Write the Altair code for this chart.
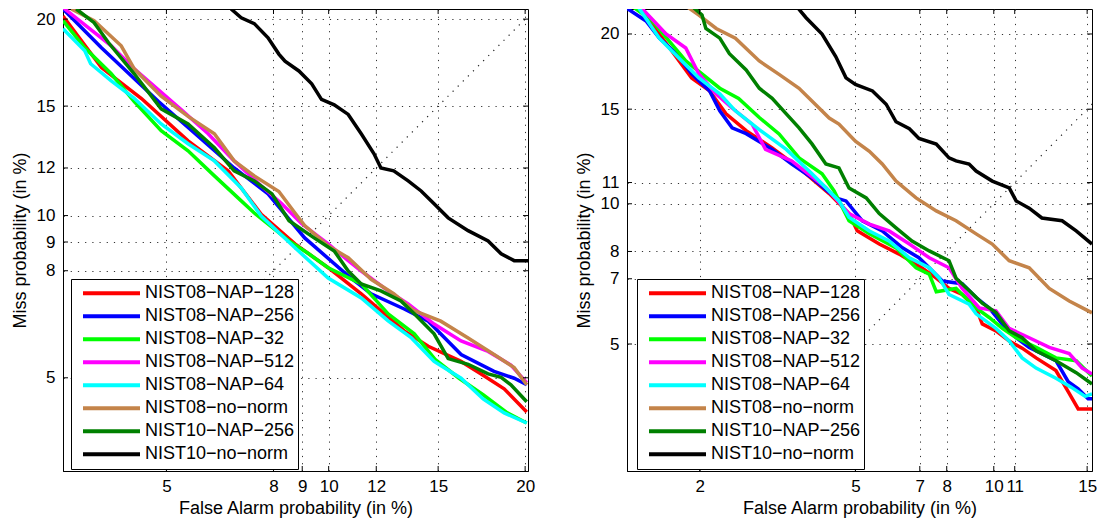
import altair as alt
import pandas as pd
from statistics import NormalDist

_nd = NormalDist()


def probit(p):
    return _nd.inv_cdf(p / 100.0)


SERIES = ["NIST08−NAP−128", "NIST08−NAP−256", "NIST08−NAP−32", "NIST08−NAP−512",
          "NIST08−NAP−64", "NIST08−no−norm", "NIST10−NAP−256", "NIST10−no−norm"]
COLORS = ["#ff0000", "#0000ff", "#00ff00", "#ff00ff", "#00ffff", "#c4844a", "#008000", "#000000"]

# ---------------- left panel (values in %) ----------------
L_128_FA = [3.03, 3.67, 4.45, 5.52, 6.6, 7.6, 8.74, 9.98, 11.34, 13.3, 14.49, 16.23, 17.47, 18.71, 20.1]
L_128_MS = [20.2, 17.1, 15.4, 13.26, 11.87, 10.05, 8.93, 8.1, 7.26, 6.18, 5.77, 5.39, 5.06, 4.75, 4.26]
L_256_FA = [3.03, 3.67, 4.82, 6.77, 7.82, 9.09, 10.79, 11.77, 13.3, 14.49, 16.23, 18.11, 19.32, 20.1]
L_256_MS = [20.64, 18.25, 15.24, 12.0, 10.88, 9.15, 7.83, 7.26, 6.8, 6.45, 5.56, 5.15, 4.99, 4.84]
L_32_FA = [3.03, 3.38, 3.85, 4.30, 4.88, 5.52, 6.21, 6.98, 7.38, 8.53, 9.24, 9.98, 11.34, 12.54, 13.79,
           14.84, 16.12, 17.47, 18.9, 20.1]
L_32_MS = [19.9, 18.25, 16.75, 15.24, 13.75, 12.79, 11.65, 10.59, 10.1, 9.04, 8.58, 8.1, 7.57, 6.66, 6.1,
           5.44, 4.99, 4.62, 4.24, 4.04]
L_512_FA = [3.04, 3.85, 4.30, 5.35, 6.04, 6.77, 7.6, 8.28, 8.98, 9.98, 10.79, 11.34, 12.54, 13.49, 14.79,
            16.23, 17.76, 19.12, 20.1]
L_512_MS = [20.7, 18.37, 17.03, 14.82, 13.6, 12.32, 11.22, 10.47, 9.68, 8.93, 8.34, 7.99, 7.35, 6.95, 6.37,
            5.91, 5.64, 5.3, 4.89]
L_64_FA = [3.03, 3.38, 3.48, 3.85, 4.30, 4.88, 5.52, 6.21, 6.98, 7.6, 8.74, 9.98, 11.34, 12.54, 13.65,
           14.79, 16.23, 17.47, 18.71, 20.1]
L_64_MS = [19.4, 18.07, 17.32, 16.36, 15.41, 14.09, 13.12, 12.32, 11.13, 9.98, 8.79, 7.76, 7.13, 6.46, 5.99,
           5.39, 4.99, 4.53, 4.24, 4.04]
L_NN08_FA = [3.16, 3.54, 4.04, 4.30, 4.88, 5.52, 6.21, 6.77, 7.38, 8.18, 8.74, 9.09, 9.98, 10.79, 11.77,
             12.8, 13.79, 15.14, 16.62, 18.11, 19.32, 20.1]
L_NN08_MS = [20.64, 19.9, 18.37, 17.03, 15.52, 14.47, 13.6, 12.32, 11.65, 10.98, 10.1, 9.61, 8.86, 8.44,
             7.72, 7.26, 6.75, 6.45, 5.99, 5.56, 5.24, 4.84]
L_N10_256_FA = [3.24, 3.54, 3.8, 4.30, 4.88, 5.52, 6.21, 6.77, 7.38, 7.95, 8.53, 9.44, 10.22, 10.79, 11.34,
                12.21, 13.14, 13.79, 14.79, 15.53, 16.62, 17.76, 18.53, 19.12, 20.1]
L_N10_256_MS = [20.64, 19.78, 18.55, 16.75, 14.86, 14.09, 12.93, 11.87, 11.43, 10.88, 9.8, 9.15, 8.68, 7.99,
                7.57, 7.35, 7.04, 6.66, 6.1, 5.46, 5.32, 5.09, 5.01, 4.84, 4.47]
L_N10_NN_FA = [6.68, 6.98, 7.38, 7.82, 8.18, 8.39, 8.88, 9.35, 9.72, 10.22, 10.79, 11.34, 11.9, 12.21, 12.8,
               13.49, 14.13, 14.79, 15.53, 16.62, 17.76, 18.53, 19.32, 20.2]
L_N10_NN_MS = [20.64, 20.08, 19.72, 18.85, 17.88, 17.47, 16.91, 16.19, 15.35, 15.07, 14.57, 13.6, 12.65, 12.0,
               11.87, 11.43, 11.0, 10.47, 9.91, 9.42, 9.04, 8.58, 8.34, 8.34]

# ---------------- right panel (values in %) ----------------
R_128_FA = [1.32, 1.54, 1.90, 2.13, 2.36, 2.67, 3.12, 3.65, 4.33, 4.83, 5.05, 5.68, 6.3, 7.08, 7.6, 8.09,
            8.62, 9.21, 9.48, 10.1, 10.73, 11.37, 12.09, 13.17, 13.87, 14.46, 15.3]
R_128_MS = [22.1, 20.0, 16.97, 16.13, 14.72, 13.74, 12.78, 11.73, 10.47, 9.56, 8.83, 8.29, 7.9, 7.38, 7.02,
            6.67, 6.47, 6.04, 5.56, 5.36, 5.08, 4.89, 4.64, 4.33, 3.85, 3.49, 3.49]
R_256_FA = [1.24, 1.41, 1.54, 1.72, 1.90, 2.13, 2.27, 2.45, 2.67, 3.12, 3.5, 3.93, 4.49, 4.75, 5.19, 5.77,
            6.41, 6.97, 7.34, 7.83, 8.62, 9.21, 9.79, 10.4, 11.07, 11.73, 12.4, 13.17, 13.87, 14.46, 15.06, 15.3]
R_256_MS = [21.9, 20.96, 19.7, 18.6, 17.23, 16.13, 14.9, 13.9, 13.57, 12.7, 11.93, 11.23, 10.27, 10.13, 9.25,
            8.82, 8.14, 7.76, 7.39, 6.92, 6.83, 6.37, 6.04, 5.55, 5.17, 4.91, 4.75, 4.57, 4.07, 3.91, 3.7, 3.7]
R_32_FA = [1.28, 1.47, 1.83, 2.27, 2.55, 2.89, 3.25, 3.65, 4.16, 4.45, 4.83, 5.39, 6.2, 6.87, 7.34, 7.6,
           8.37, 9.21, 9.79, 10.4, 11.07, 12.09, 13.17, 14.34, 14.94, 15.3]
R_32_MS = [22.1, 20.96, 18.1, 16.3, 15.66, 14.5, 13.55, 12.25, 11.43, 10.6, 9.25, 8.7, 8.14, 7.39, 7.16,
           6.56, 6.67, 6.04, 5.75, 5.43, 5.17, 4.91, 4.64, 4.57, 4.33, 4.2]
R_512_FA = [1.35, 1.61, 1.83, 1.99, 2.22, 2.45, 2.77, 3.0, 3.5, 4.25, 4.83, 5.39, 5.98, 6.64, 7.34, 8.09,
            8.62, 9.35, 10.1, 10.73, 11.73, 12.8, 13.93, 14.7, 15.3]
R_512_MS = [22.1, 20.0, 19.0, 17.23, 15.94, 15.07, 14.1, 12.7, 12.09, 10.76, 9.56, 9.11, 8.82, 8.29, 7.76,
            7.39, 6.67, 6.04, 5.95, 5.43, 5.17, 4.91, 4.75, 4.39, 4.25]
R_64_FA = [1.33, 1.54, 1.75, 1.99, 2.27, 2.5, 2.89, 3.39, 3.93, 4.57, 4.83, 5.39, 5.98, 6.64, 7.34, 7.71,
           8.09, 8.91, 9.21, 10.1, 10.73, 11.37, 12.09, 13.17, 14.04, 14.88, 15.3]
R_64_MS = [22.1, 19.7, 18.3, 16.97, 15.94, 14.9, 13.8, 12.7, 11.43, 10.13, 9.4, 8.82, 8.41, 7.76, 7.39, 7.02,
           6.47, 6.16, 5.86, 5.43, 5.08, 4.64, 4.39, 4.15, 3.95, 3.75, 3.8]
R_NN08_FA = [1.83, 1.99, 2.22, 2.5, 2.89, 3.25, 3.65, 4.09, 4.33, 4.57, 5.0, 5.39, 5.77, 6.2, 6.87, 7.6,
             8.37, 9.21, 9.93, 10.73, 11.73, 12.8, 13.93, 15.3]
R_NN08_MS = [22.1, 21.4, 20.4, 19.7, 18.1, 17.2, 16.3, 15.07, 14.47, 14.12, 13.15, 12.6, 11.93, 11.07, 10.27,
             9.68, 9.25, 8.7, 8.29, 7.65, 7.39, 6.67, 6.26, 5.89]
R_N10_256_FA = [1.90, 2.03, 2.08, 2.27, 2.41, 2.67, 2.89, 3.12, 3.39, 3.65, 3.93, 4.25, 4.57, 4.83, 5.3, 5.68,
                6.2, 6.73, 7.34, 8.09, 8.37, 8.91, 9.48, 10.1, 10.73, 11.37, 12.09, 13.17, 14.34, 15.3]
R_N10_256_MS = [22.1, 21.4, 20.4, 19.7, 18.6, 17.49, 16.3, 15.66, 14.72, 13.9, 13.0, 11.93, 11.73, 10.74,
                10.27, 9.56, 8.95, 8.41, 8.02, 7.65, 7.02, 6.6, 6.19, 5.9, 5.36, 5.17, 4.82, 4.57, 4.28, 4.02]
R_N10_NN_FA = [3.59, 3.8, 4.16, 4.49, 4.75, 5.0, 5.48, 5.89, 6.2, 6.64, 6.97, 7.6, 8.09, 8.37, 8.91, 9.21,
               9.93, 10.73, 11.07, 11.73, 12.4, 13.52, 14.34, 15.3]
R_N10_NN_MS = [22.1, 21.2, 20.0, 18.4, 16.97, 16.55, 16.13, 15.3, 14.25, 13.85, 13.3, 12.99, 12.25, 12.09,
               11.93, 11.57, 11.07, 10.74, 10.13, 9.8, 9.37, 9.25, 8.82, 8.29]

LEFT = [(L_128_FA, L_128_MS), (L_256_FA, L_256_MS), (L_32_FA, L_32_MS), (L_512_FA, L_512_MS),
        (L_64_FA, L_64_MS), (L_NN08_FA, L_NN08_MS), (L_N10_256_FA, L_N10_256_MS), (L_N10_NN_FA, L_N10_NN_MS)]
RIGHT = [(R_128_FA, R_128_MS), (R_256_FA, R_256_MS), (R_32_FA, R_32_MS), (R_512_FA, R_512_MS),
         (R_64_FA, R_64_MS), (R_NN08_FA, R_NN08_MS), (R_N10_256_FA, R_N10_256_MS), (R_N10_NN_FA, R_N10_NN_MS)]

L_XTICKS = [5, 8, 9, 10, 12, 15, 20]
L_YTICKS = [5, 8, 9, 10, 12, 15, 20]
R_XTICKS = [2, 5, 7, 8, 10, 11, 15]
R_YTICKS = [5, 7, 8, 10, 11, 15, 20]
L_XDOM = [3.03, 20.18]
L_YDOM = [3.19, 20.64]
R_XDOM = [1.24, 15.3]
R_YDOM = [2.42, 21.86]
DIAG = [1.0, 25.0]

W, H = 465, 462
FONT = "Liberation Sans"
LABEL_EXPR = "format(cumulativeNormal(datum.value) * 100, '.0f')"


def build_df(curves):
    rows = []
    for name, (fa, ms) in zip(SERIES, curves):
        for i, (a, b) in enumerate(zip(fa, ms)):
            rows.append({"series": name, "i": i, "fa": a, "miss": b})
    return pd.DataFrame(rows)


def panel(curves, xdom, ydom, xticks, yticks, lx, ly):
    xs = alt.Scale(domain=[probit(xdom[0]), probit(xdom[1])], nice=False, zero=False)
    ys = alt.Scale(domain=[probit(ydom[0]), probit(ydom[1])], nice=False, zero=False)
    xaxis = alt.Axis(values=[probit(t) for t in xticks], labelExpr=LABEL_EXPR, grid=True, ticks=False,
                     labelPadding=7, titlePadding=5, labelFlush=False, labelOverlap=False,
                     title="False Alarm probability (in %)")
    yaxis = alt.Axis(values=[probit(t) for t in yticks], labelExpr=LABEL_EXPR, grid=True, ticks=False,
                     labelPadding=8, titlePadding=7, labelFlush=False, labelOverlap=False,
                     title="Miss probability (in %)")
    X = alt.X("zx:Q", scale=xs, axis=xaxis)
    Y = alt.Y("zy:Q", scale=ys, axis=yaxis)

    diag = alt.Chart(pd.DataFrame({"d": DIAG})).transform_calculate(
        zx="quantileNormal(datum.d / 100)", zy="quantileNormal(datum.d / 100)"
    ).mark_line(color="#222222", strokeWidth=1.2, strokeDash=[1.2, 6], clip=True).encode(x=X, y=Y)

    lines = alt.Chart(build_df(curves)).transform_calculate(
        zx="quantileNormal(datum.fa / 100)", zy="quantileNormal(datum.miss / 100)"
    ).mark_line(strokeWidth=3.5, clip=True).encode(
        x=X, y=Y,
        color=alt.Color("series:N", sort=SERIES,
                        scale=alt.Scale(domain=SERIES, range=COLORS),
                        legend=alt.Legend(orient="none", legendX=lx, legendY=ly, title=None,
                                          symbolType="stroke", symbolSize=3249, symbolStrokeWidth=4,
                                          labelFont=FONT, labelFontSize=18, labelColor="black",
                                          clipHeight=22.3, rowPadding=0, padding=3,
                                          symbolOffset=7, labelOffset=3, labelLimit=400,
                                          strokeColor="black", fillColor="white")),
        order=alt.Order("i:Q"),
    )

    xt = alt.Chart(pd.DataFrame({"t": xticks})).transform_calculate(zx="quantileNormal(datum.t / 100)")
    yt = alt.Chart(pd.DataFrame({"t": yticks})).transform_calculate(zy="quantileNormal(datum.t / 100)")
    top = xt.mark_rule(color="black", strokeWidth=1).encode(x=X, y=alt.value(0), y2=alt.value(5))
    bot = xt.mark_rule(color="black", strokeWidth=1).encode(x=X, y=alt.value(H), y2=alt.value(H - 5))
    lft = yt.mark_rule(color="black", strokeWidth=1).encode(y=Y, x=alt.value(0), x2=alt.value(5))
    rgt = yt.mark_rule(color="black", strokeWidth=1).encode(y=Y, x=alt.value(W - 5), x2=alt.value(W))

    return alt.layer(diag, lines, top, bot, lft, rgt).properties(width=W, height=H)


left = panel(LEFT, L_XDOM, L_YDOM, L_XTICKS, L_YTICKS, 8, 270)
right = panel(RIGHT, R_XDOM, R_YDOM, R_XTICKS, R_YTICKS, 10, 270)

chart = alt.hconcat(left, right, spacing=38).resolve_scale(
    x="independent", y="independent", color="independent"
).resolve_legend(color="independent").properties(
    padding={"left": 2, "top": 0, "right": 0, "bottom": 0}, background="white"
).configure_view(stroke="black", strokeWidth=1).configure_axis(
    labelFont=FONT, titleFont=FONT, labelFontSize=17, titleFontSize=18, titleFontWeight="normal",
    labelColor="black", titleColor="black", domainColor="black", domainWidth=1,
    gridColor="#333333", gridDash=[1.2, 6], gridOpacity=1, gridWidth=1
)

chart.save("out.html", embed_options={"renderer": "svg", "actions": False})
